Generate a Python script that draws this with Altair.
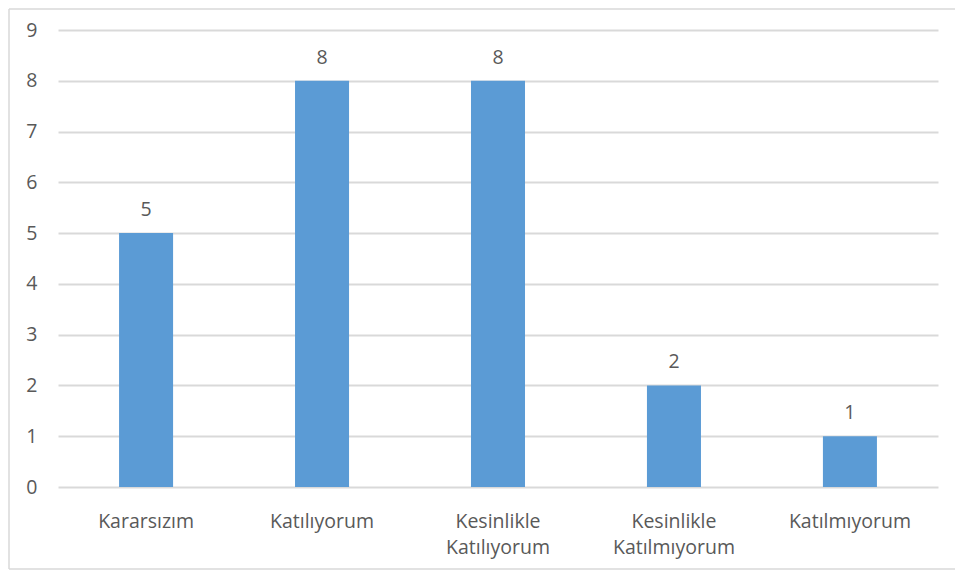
import altair as alt
import pandas as pd

categories = ["Kararsızım", "Katılıyorum", "Kesinlikle Katılıyorum", "Kesinlikle Katılmıyorum", "Katılmıyorum"]
values = [5, 8, 8, 2, 1]
y_ticks = list(range(0, 10))

df = pd.DataFrame({"cat": categories, "value": values})

FONT = "Open Sans"
TXT = "#595959"
GRID = "#D9D9D9"
FS = 19.5

label_expr = ("datum.value == 'Kesinlikle Katılıyorum' ? ['Kesinlikle','Katılıyorum'] : "
              "datum.value == 'Kesinlikle Katılmıyorum' ? ['Kesinlikle','Katılmıyorum'] : datum.value")

x = alt.X("cat:N", sort=categories, title=None,
          scale=alt.Scale(paddingInner=0.693, paddingOuter=0.347),
          axis=alt.Axis(labelAngle=0, labelExpr=label_expr, ticks=False, domain=False,
                        labelFont=FONT, labelFontSize=FS, labelColor=TXT, labelPadding=40,
                        labelLineHeight=26, labelBaseline="alphabetic"))
y = alt.Y("value:Q", title=None,
          scale=alt.Scale(domain=[0, 9], nice=False),
          axis=alt.Axis(values=y_ticks, ticks=False, domain=False, gridColor=GRID, gridWidth=2,
                        labelFont=FONT, labelFontSize=FS, labelColor=TXT, labelPadding=21))

bars = alt.Chart(df).mark_bar(color="#5B9BD5").encode(x=x, y=y)
text = alt.Chart(df).mark_text(font=FONT, fontSize=FS, color=TXT, dy=-17, baseline="alphabetic").encode(
    x=alt.X("cat:N", sort=categories), y="value:Q", text="value:Q")

one = pd.DataFrame({"a": [0]})
edge = dict(stroke=GRID, strokeWidth=1.5)
left_edge = alt.Chart(one).mark_rule(**edge).encode(
    x=alt.value(-49), y=alt.value(-21), y2=alt.value(539))
top_edge = alt.Chart(one).mark_rule(**edge).encode(
    x=alt.value(-49), x2=alt.value(960), y=alt.value(-21))
bottom_edge = alt.Chart(one).mark_rule(**edge).encode(
    x=alt.value(-49), x2=alt.value(960), y=alt.value(539))

chart = alt.layer(left_edge, top_edge, bottom_edge, bars, text).properties(
    width=880, height=457, padding={"left": 50, "top": 22, "right": 17, "bottom": 83},
    autosize=alt.AutoSizeParams(type="none")
).configure_view(stroke=None)

chart.save("out.html", embed_options={"renderer": "svg", "actions": False})
